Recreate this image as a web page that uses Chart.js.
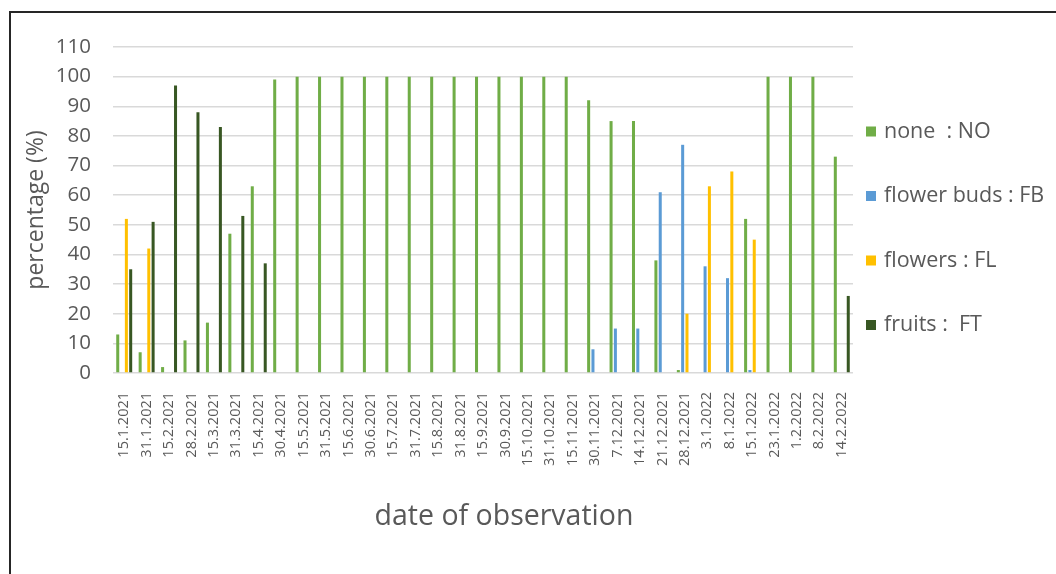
<!DOCTYPE html>
<html>
<head>
<meta charset="utf-8">
<title>Phenological phases by date of observation</title>
<script src="https://cdn.jsdelivr.net/npm/chart.js@4.4.1/dist/chart.umd.min.js"></script>
<style>
  html, body { margin: 0; padding: 0; background: #ffffff; }
  #wrap { position: relative; width: 1056px; height: 574px; overflow: hidden; }
  #frame {
    position: absolute; left: 9px; top: 11px; width: 1200px; height: 700px;
    border-left: 2px solid #262626; border-top: 2px solid #262626;
    pointer-events: none;
  }
  canvas { position: absolute; left: 0; top: 0; }
</style>
</head>
<body>
<div id="wrap">
  <canvas id="chart" width="1056" height="574"></canvas>
  <div id="frame"></div>
</div>
<script>
// Observation dates (category axis)
const dates = [
  '15.1.2021', '31.1.2021', '15.2.2021', '28.2.2021', '15.3.2021', '31.3.2021',
  '15.4.2021', '30.4.2021', '15.5.2021', '31.5.2021', '15.6.2021', '30.6.2021',
  '15.7.2021', '31.7.2021', '15.8.2021', '31.8.2021', '15.9.2021', '30.9.2021',
  '15.10.2021', '31.10.2021', '15.11.2021', '30.11.2021', '7.12.2021', '14.12.2021',
  '21.12.2021', '28.12.2021', '3.1.2022', '8.1.2022', '15.1.2022', '23.1.2022',
  '1.2.2022', '8.2.2022', '14.2.2022'
];

// Share of plants in each phase (%)
const noneNO = [
  13, 7, 2, 11, 17, 47, 63, 99, 100, 100, 100, 100,
  100, 100, 100, 100, 100, 100, 100, 100, 100, 92, 85, 85,
  38, 1, 0, 0, 52, 100, 100, 100, 73
];
const flowerBudsFB = [
  0, 0, 0, 0, 0, 0, 0, 0, 0, 0, 0, 0,
  0, 0, 0, 0, 0, 0, 0, 0, 0, 8, 15, 15,
  61, 77, 36, 32, 1, 0, 0, 0, 0
];
const flowersFL = [
  52, 42, 0, 0, 0, 0, 0, 0, 0, 0, 0, 0,
  0, 0, 0, 0, 0, 0, 0, 0, 0, 0, 0, 0,
  0, 20, 63, 68, 45, 0, 0, 0, 0
];
const fruitsFT = [
  35, 51, 97, 88, 83, 53, 37, 0, 0, 0, 0, 0,
  0, 0, 0, 0, 0, 0, 0, 0, 0, 0, 0, 0,
  0, 0, 0, 0, 0, 0, 0, 0, 26
];

const seriesLabels = ['none  : NO', 'flower buds : FB', 'flowers : FL', 'fruits :  FT'];
const yTicks = [0, 10, 20, 30, 40, 50, 60, 70, 80, 90, 100, 110];
const xTitle = 'date of observation';

const textColor = '#595959';
const fontFamily = "'Open Sans', 'Noto Sans', sans-serif";
const colors = ['#70AD47', '#5B9BD5', '#FFC000', '#385723'];

// Legend stacked on the right with wide spacing, plus the x axis title
const sideLegend = {
  id: 'sideLegend',
  afterDraw(chart) {
    const ctx = chart.ctx;
    ctx.save();
    ctx.font = '21.5px ' + fontFamily;
    ctx.textBaseline = 'middle';
    ctx.textAlign = 'left';
    chart.data.datasets.forEach((ds, i) => {
      const y = 131.5 + i * 64.5;
      ctx.fillStyle = ds.backgroundColor;
      ctx.fillRect(866, y - 5, 10, 10);
      ctx.fillStyle = textColor;
      ctx.fillText(ds.label, 884, y);
    });
    ctx.font = '28.5px ' + fontFamily;
    ctx.textAlign = 'center';
    ctx.fillText(xTitle, 504, 517);
    ctx.restore();
  }
};

const values = [noneNO, flowerBudsFB, flowersFL, fruitsFT];

new Chart(document.getElementById('chart'), {
  type: 'bar',
  data: {
    labels: dates,
    datasets: values.map((v, i) => ({
      label: seriesLabels[i],
      data: v,
      backgroundColor: colors[i],
      borderWidth: 0,
      categoryPercentage: 0.77,
      barPercentage: 0.7
    }))
  },
  options: {
    responsive: false,
    devicePixelRatio: 1,
    animation: false,
    layout: { padding: { top: 47, right: 203, bottom: 40, left: 0 } },
    plugins: {
      legend: { display: false },
      tooltip: { enabled: false }
    },
    scales: {
      x: {
        grid: { display: false },
        border: { display: false },
        ticks: {
          color: textColor,
          font: { family: fontFamily, size: 14.5 },
          minRotation: 90,
          maxRotation: 90,
          autoSkip: false,
          padding: 11
        },
        afterFit(scale) { scale.height = 161; }
      },
      y: {
        min: 0,
        max: 110,
        afterBuildTicks(scale) { scale.ticks = yTicks.map(v => ({ value: v })); },
        grid: { color: '#d9d9d9', lineWidth: 1.5, drawTicks: false },
        border: { display: false },
        ticks: {
          color: textColor,
          font: { family: fontFamily, size: 20.5 },
          padding: 22
        },
        title: {
          display: true,
          text: 'percentage (%)',
          color: textColor,
          font: { family: fontFamily, size: 23 },
          padding: { top: 23, bottom: 0 }
        },
        afterFit(scale) { scale.width = 113; }
      }
    }
  },
  plugins: [sideLegend]
});
</script>
</body>
</html>
